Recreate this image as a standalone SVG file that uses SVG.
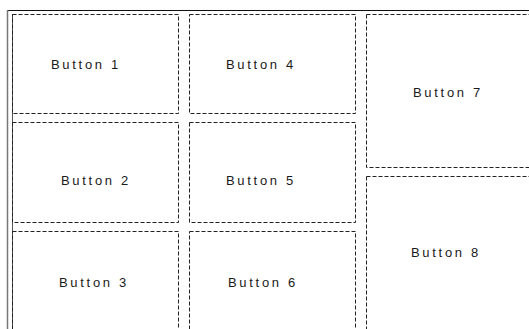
<svg xmlns="http://www.w3.org/2000/svg" width="529" height="329" viewBox="0 0 529 329">
<style>
.box{fill:none;stroke:#222;stroke-width:1;stroke-dasharray:4 2}
.lbl{font-family:"Liberation Sans",Arial,sans-serif;font-size:13px;letter-spacing:2.7px;fill:#1a1a1a}
</style>
<rect width="529" height="329" fill="#fff"/>
<g id="frame">
<line x1="7" y1="10.5" x2="529" y2="10.5" stroke="#111" stroke-width="1.2"/>
<line x1="7.5" y1="10" x2="7.5" y2="329" stroke="#777" stroke-width="1.5"/>
<line x1="12.5" y1="14" x2="12.5" y2="329" stroke="#555" stroke-width="1"/>
</g>
<g id="button1"><rect class="box" x="12.5" y="14.5" width="166" height="99"/><text class="lbl" x="51" y="69">Button 1</text></g>
<g id="button2"><rect class="box" x="12.5" y="122.5" width="166" height="100"/><text class="lbl" x="61" y="185">Button 2</text></g>
<g id="button3"><rect class="box" x="12.5" y="231.5" width="166" height="120"/><text class="lbl" x="59" y="287">Button 3</text></g>
<g id="button4"><rect class="box" x="189.5" y="14.5" width="166" height="99"/><text class="lbl" x="226" y="69">Button 4</text></g>
<g id="button5"><rect class="box" x="189.5" y="122.5" width="166" height="100"/><text class="lbl" x="226" y="185">Button 5</text></g>
<g id="button6"><rect class="box" x="189.5" y="231.5" width="166" height="120"/><text class="lbl" x="228" y="287">Button 6</text></g>
<g id="button7"><rect class="box" x="366.5" y="14.5" width="200" height="153"/><text class="lbl" x="413" y="96.5">Button 7</text></g>
<g id="button8"><rect class="box" x="366.5" y="176.5" width="200" height="180"/><text class="lbl" x="411" y="257">Button 8</text></g>
<g id="connectors"/>
</svg>
